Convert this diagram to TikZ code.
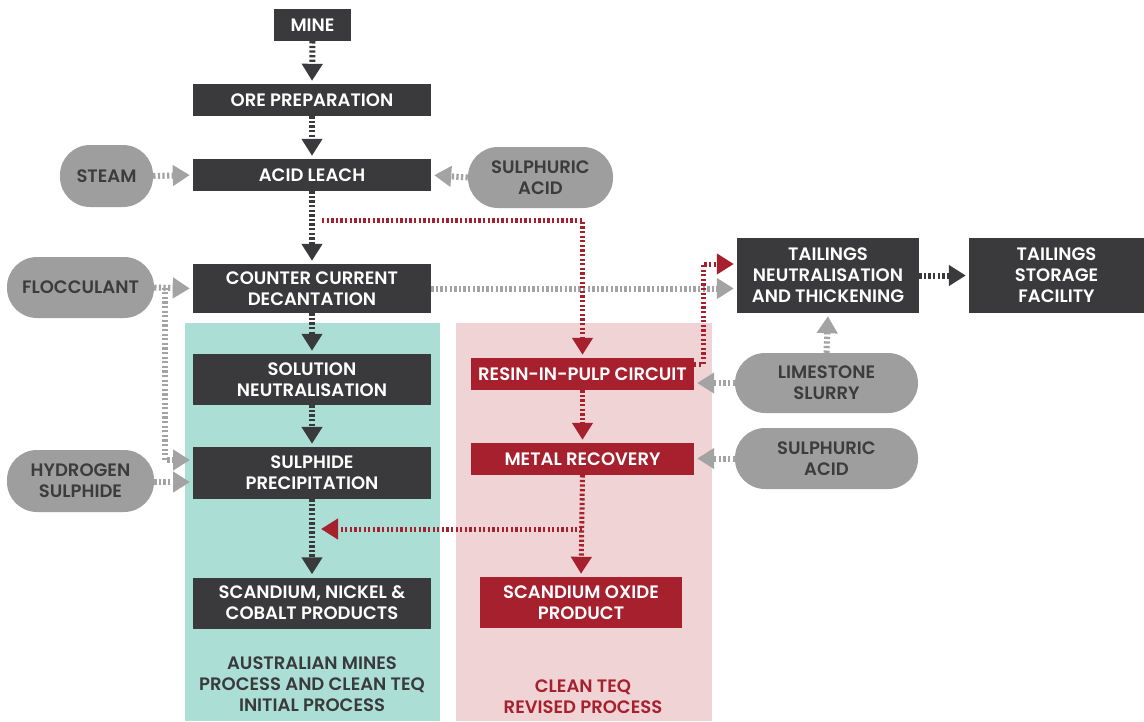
\documentclass[tikz,border=0pt]{standalone}
\usepackage{fontspec}
\setmainfont{Poppins}[BoldFont={Poppins SemiBold}]
\usetikzlibrary{arrows.meta,calc}
\definecolor{dark}{HTML}{3A3A3C}
\definecolor{rd}{HTML}{A6202E}
\definecolor{pillgrey}{HTML}{9E9E9E}
\definecolor{pilltext}{HTML}{3C3C3C}
\definecolor{argrey}{HTML}{A3A3A3}
\definecolor{teal}{HTML}{ABDFD6}
\definecolor{pink}{HTML}{EFD3D5}
\tikzset{
  lbl/.style={font=\bfseries\fontsize{18}{21}\selectfont, align=center, inner sep=0pt},
  darkbox/.style={lbl, fill=dark, text=white},
  redbox/.style={lbl, fill=rd, text=white},
  pill/.style={lbl, fill=pillgrey, text=pilltext, rounded corners=30pt},
  flow/.style={line width=6pt, dash pattern=on 2.3pt off 2.3pt,
    -{Triangle[width=20pt,length=17pt]}, shorten >=3pt},
  blackflow/.style={flow, draw=dark},
  greyflow/.style={flow, draw=argrey},
  redflow/.style={flow, draw=rd, line width=5pt},
}
\begin{document}
\begin{tikzpicture}[x=1pt,y=-1pt]
\useasboundingbox (0,0) rectangle (1144,721);
\fill[white] (0,0) rectangle (1144,721);
% backgrounds
\fill[teal] (185,323) rectangle (440,721);
\fill[pink] (456,323) rectangle (712,721);
% nodes
\node[darkbox, minimum width=77, minimum height=32] (mine) at (312.5,25) {MINE};
\node[darkbox, minimum width=238, minimum height=32] (ore) at (312,100) {ORE PREPARATION};
\node[darkbox, minimum width=238, minimum height=32] (leach) at (312,175) {ACID LEACH};
\node[pill, minimum width=93, minimum height=62] (steam) at (106.5,176) {STEAM};
\node[pill, minimum width=145, minimum height=61] (sulph1) at (540.5,177.5) {SULPHURIC\\ACID};
\node[darkbox, minimum width=238, minimum height=49] (ccd) at (312,288.5) {COUNTER CURRENT\\DECANTATION};
\node[pill, minimum width=147, minimum height=61] (floc) at (80.5,287.5) {FLOCCULANT};
\node[pill, minimum width=147, minimum height=62] (hs) at (80.5,481) {HYDROGEN\\SULPHIDE};
\node[darkbox, minimum width=238, minimum height=51] (sn) at (312,379.5) {SOLUTION\\NEUTRALISATION};
\node[darkbox, minimum width=238, minimum height=52] (sp) at (312,473) {SULPHIDE\\PRECIPITATION};
\node[darkbox, minimum width=238, minimum height=51] (snc) at (312,603) {SCANDIUM, NICKEL \&\\COBALT PRODUCTS};
\node[redbox, minimum width=223, minimum height=32] (rip) at (582.5,374) {RESIN-IN-PULP CIRCUIT};
\node[redbox, minimum width=223, minimum height=32] (mr) at (582.5,459) {METAL RECOVERY};
\node[redbox, minimum width=202, minimum height=51] (sox) at (581,602.5) {SCANDIUM OXIDE\\PRODUCT};
\node[darkbox, minimum width=182, minimum height=75] (tail) at (828,275.5) {TAILINGS\\NEUTRALISATION\\AND THICKENING};
\node[darkbox, minimum width=175, minimum height=75] (tsf) at (1056.5,275.5) {TAILINGS\\STORAGE\\FACILITY};
\node[pill, minimum width=183, minimum height=60] (lime) at (826.5,383) {LIMESTONE\\SLURRY};
\node[pill, minimum width=183, minimum height=61] (sulph2) at (826.5,458.5) {SULPHURIC\\ACID};
\node[lbl, text=dark] (lab1) at (312,684) {AUSTRALIAN MINES\\PROCESS AND CLEAN TEQ\\INITIAL PROCESS};
\node[lbl, text=rd] (lab2) at (583,696.5) {CLEAN TEQ\\REVISED PROCESS};
% helper coordinates
\coordinate (fb) at (165,287.5);
\coordinate (fs) at (193,460);
\coordinate (hsp) at (193,482);
\coordinate (rl) at (322,220);
\coordinate (rm) at (582,529);
\coordinate (rt) at (318,529);
\coordinate (r1) at (694,364);
\coordinate (r2) at (703,364);
\coordinate (r3) at (703,264);
% black flows
\draw[blackflow] (mine.south) -- (ore.north);
\draw[blackflow] (ore.south) -- (leach.north);
\draw[blackflow] (leach.south) -- (ccd.north);
\draw[blackflow] (ccd.south) -- (sn.north);
\draw[blackflow] (sn.south) -- (sp.north);
\draw[blackflow] (sp.south) -- (snc.north);
\draw[blackflow] (tail.east) -- (tsf.west);
% grey flows
\draw[greyflow] (steam.east) -- (leach.west);
\draw[greyflow] (sulph1.west) -- (leach.east);
\draw[greyflow] (floc.east) -- (ccd.west);
\draw[greyflow] (fb) |- (fs);
\draw[greyflow] (hs.east |- hsp) -- (hsp);
\draw[greyflow] (ccd.east) -- (tail.west |- ccd.east);
\draw[greyflow] (lime.north) -- (tail.south);
\draw[greyflow] (lime.west) -- (lime.west -| rip.east);
\draw[greyflow] (sulph2.west) -- (sulph2.west -| mr.east);
% red flows
\draw[redflow] (rl) -| (rip.north);
\draw[redflow] (rip.south) -- (mr.north);
\draw[redflow] (mr.south) -- (sox.north);
\draw[redflow] (rm) -- (rt);
\draw[redflow] (r1) -- (r2) -- (r3) -- (tail.west |- r3);
\end{tikzpicture}
\end{document}
